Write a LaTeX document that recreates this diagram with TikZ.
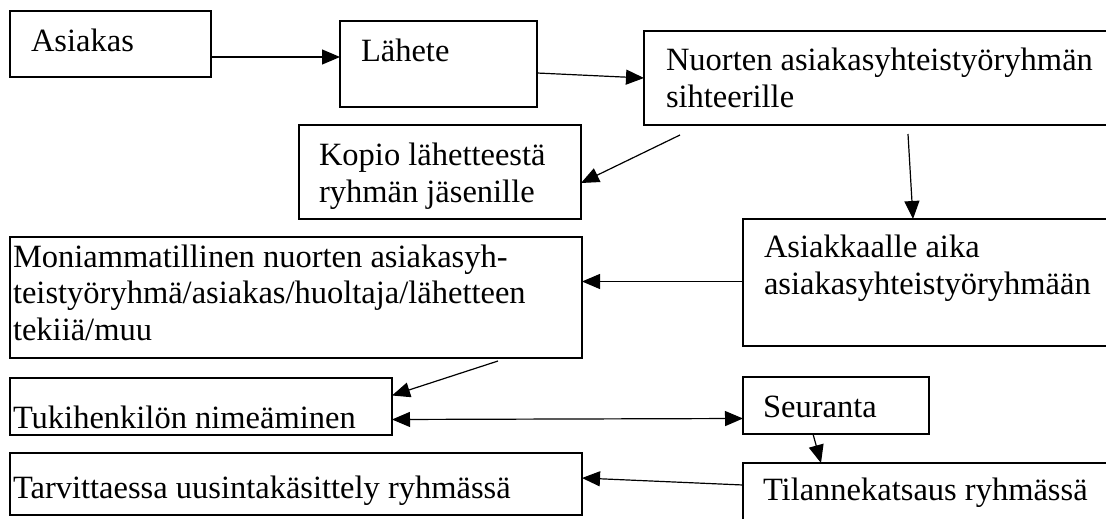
\documentclass[tikz,border=0pt]{standalone}
\usepackage{fontspec}
\setmainfont{Liberation Serif}
\usetikzlibrary{arrows.meta}
\begin{document}
\begin{tikzpicture}[x=1pt,y=-1pt,
  box/.style={draw, line width=1.2pt, inner sep=0pt, outer sep=0pt, anchor=north west},
  txt/.style={anchor=base west, inner sep=0pt, outer sep=0pt, align=left, font=\fontsize{32.5pt}{36.5pt}\selectfont},
  arr/.style={line width=1.2pt, -{Triangle[length=18pt,width=15pt]}},
  arrtwo/.style={line width=1.2pt, {Triangle[length=18pt,width=15pt]}-{Triangle[length=18pt,width=15pt]}}
  ]
\clip (0,0) rectangle (1106,519);
\fill[white] (0,0) rectangle (1106,519);
% boxes
\node[box, minimum width=201pt, minimum height=66pt]  (asiakas) at (10,11) {};
\node[box, minimum width=197pt, minimum height=86pt]  (lahete)  at (340,21) {};
\node[box, minimum width=480pt, minimum height=94pt]  (nuorten) at (644,31) {};
\node[box, minimum width=282pt, minimum height=94pt]  (kopio)   at (299,125) {};
\node[box, minimum width=380pt, minimum height=127pt] (aika)    at (743,219) {};
\node[box, minimum width=572pt, minimum height=121pt] (moni)    at (10,237) {};
\node[box, minimum width=382pt, minimum height=57pt]  (tuki)    at (10,378) {};
\node[box, minimum width=186pt, minimum height=57pt]  (seur)    at (743,377) {};
\node[box, minimum width=572pt, minimum height=62pt]  (tarv)    at (10,453) {};
\node[box, minimum width=380pt, minimum height=80pt]  (tilanne) at (743,463) {};
% texts (multi-line texts are placed by the baseline of their last line)
\node[txt] (asiakasT) at ([xshift=21pt,yshift=-41pt]asiakas.north west) {Asiakas};
\node[txt] (laheteT)  at ([xshift=21pt,yshift=-41pt]lahete.north west) {Lähete};
\node[txt] (nuortenT) at ([xshift=22pt,yshift=-76pt]nuorten.north west) {Nuorten asiakasyhteistyöryhmän\\sihteerille};
\node[txt] (kopioT)   at ([xshift=20pt,yshift=-77pt]kopio.north west) {Kopio lähetteestä\\ryhmän jäsenille};
\node[txt] (aikaT)    at ([xshift=21pt,yshift=-75pt]aika.north west) {Asiakkaalle aika\\asiakasyhteistyöryhmään};
\node[txt] (moniT)    at ([xshift=3pt,yshift=-103pt]moni.north west) {Moniammatillinen nuorten asiakasyh-\\teistyöryhmä/asiakas/huoltaja/lähetteen\\tekiiä/muu};
\node[txt] (tukiT)    at ([xshift=3pt,yshift=-50pt]tuki.north west) {Tukihenkilön nimeäminen};
\node[txt] (seurT)    at ([xshift=20pt,yshift=-40pt]seur.north west) {Seuranta};
\node[txt] (tarvT)    at ([xshift=3pt,yshift=-45pt]tarv.north west) {Tarvittaessa uusintakäsittely ryhmässä};
\node[txt] (tilanneT) at ([xshift=20pt,yshift=-37pt]tilanne.north west) {Tilannekatsaus ryhmässä};
% connectors
\draw[arr] ([yshift=-13pt]asiakas.east) -- ([yshift=7pt]lahete.west);
\draw[arr] ([yshift=-9pt]lahete.east) -- (nuorten.west);
\draw[arr] ([xshift=36pt,yshift=-10pt]nuorten.south west) -- ([yshift=-11pt]kopio.east);
\draw[arr] ([xshift=264pt,yshift=-9pt]nuorten.south west) -- ([xshift=170pt]aika.north west);
\draw[arr] ([yshift=1pt]aika.west) -- ([yshift=16pt]moni.east);
\draw[arr] ([xshift=488pt,yshift=-3pt]moni.south west) -- ([yshift=11pt]tuki.east);
\draw[arrtwo] ([yshift=-13pt]tuki.east) -- ([yshift=-13pt]seur.west);
\draw[arr] ([xshift=70pt]seur.south west) -- ([xshift=78pt]tilanne.north west);
\draw[arr] ([yshift=-22pt]tilanne.north west) -- ([yshift=6pt]tarv.east);
\end{tikzpicture}
\end{document}
